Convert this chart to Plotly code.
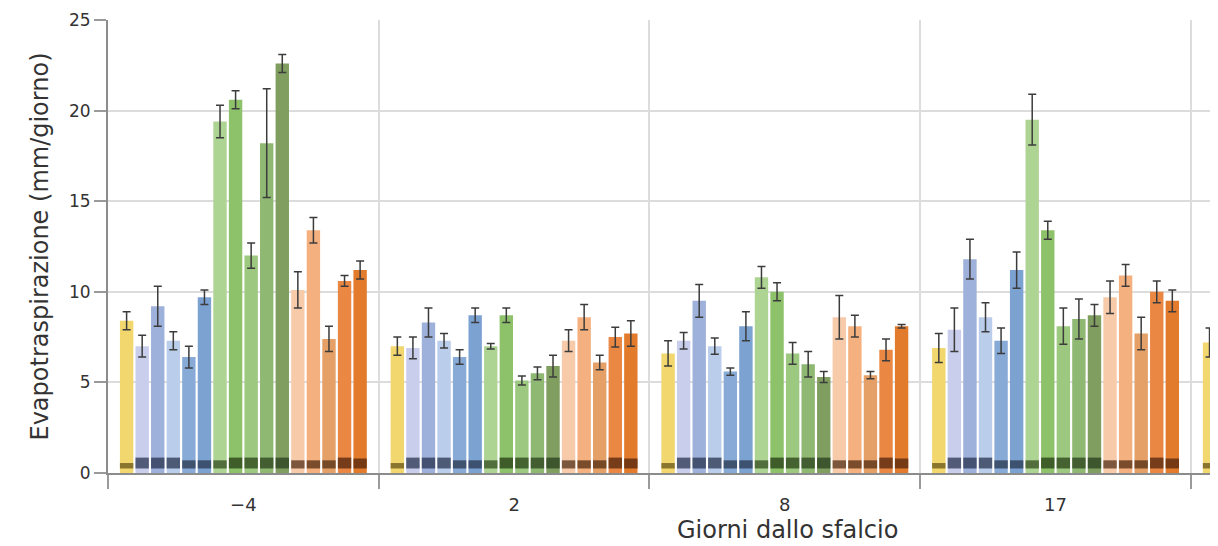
import plotly.graph_objects as go

days = ["−4", "2", "8", "17", "24"]

series_names = ["S1", "B1", "B2", "B3", "B4", "B5",
                "G1", "G2", "G3", "G4", "G5",
                "O1", "O2", "O3", "O4", "O5"]

values = [
    [8.4, 7.0, 6.6, 6.9, 7.2],
    [7.0, 6.9, 7.3, 7.9, None],
    [9.2, 8.3, 9.5, 11.8, None],
    [7.3, 7.3, 7.0, 8.6, None],
    [6.4, 6.4, 5.6, 7.3, None],
    [9.7, 8.7, 8.1, 11.2, None],
    [19.4, 7.0, 10.8, 19.5, None],
    [20.6, 8.7, 10.0, 13.4, None],
    [12.0, 5.1, 6.6, 8.1, None],
    [18.2, 5.5, 6.0, 8.5, None],
    [22.6, 5.9, 5.3, 8.7, None],
    [10.1, 7.3, 8.6, 9.7, None],
    [13.4, 8.6, 8.1, 10.9, None],
    [7.4, 6.1, 5.4, 7.7, None],
    [10.6, 7.5, 6.8, 10.0, None],
    [11.2, 7.7, 8.1, 9.5, None],
]

errors = [
    [0.5, 0.5, 0.7, 0.8, 0.8],
    [0.6, 0.6, 0.45, 1.2, None],
    [1.1, 0.8, 0.9, 1.1, None],
    [0.5, 0.4, 0.45, 0.8, None],
    [0.6, 0.4, 0.2, 0.7, None],
    [0.4, 0.4, 0.8, 1.0, None],
    [0.9, 0.15, 0.6, 1.4, None],
    [0.5, 0.4, 0.5, 0.5, None],
    [0.7, 0.25, 0.6, 1.0, None],
    [3.0, 0.35, 0.7, 1.1, None],
    [0.5, 0.6, 0.3, 0.6, None],
    [1.0, 0.6, 1.2, 0.9, None],
    [0.7, 0.7, 0.6, 0.6, None],
    [0.7, 0.4, 0.2, 0.9, None],
    [0.3, 0.55, 0.6, 0.6, None],
    [0.5, 0.7, 0.1, 0.6, None],
]

# small dark marks near the base of each bar
mark_base = 0.25
mark_heights = [0.3, 0.6, 0.6, 0.6, 0.45, 0.45,
                0.45, 0.6, 0.6, 0.6, 0.6,
                0.45, 0.45, 0.45, 0.6, 0.55]

colors = ["#F2D66E",
          "#C9CEEC", "#9EB1DA", "#BACDEB", "#87AAD6", "#7CA2D2",
          "#AED494", "#8DC26A", "#9CC87F", "#8FB873", "#7F9E60",
          "#F7CBAA", "#F4B07E", "#E4A066", "#E98743", "#E27B2C"]

mark_colors = ["#6E5C1E",
               "#343F5A", "#2E3A55", "#333F5A", "#2D3D55", "#2D3D58",
               "#3A5426", "#2A4418", "#2E4A1E", "#2F4820", "#2E4420",
               "#5E3A22", "#5C3318", "#5A3318", "#5A2A10", "#5A2A0E"]

fig = go.Figure()

for i, name in enumerate(series_names):
    fig.add_trace(go.Bar(
        x=days, y=values[i], name=name, offsetgroup=str(i),
        marker=dict(color=colors[i], line=dict(width=0)),
        error_y=dict(type="data", array=errors[i], visible=True,
                     color="#3C3C3C", thickness=1.5, width=4),
        showlegend=False,
    ))
    marks = [mark_heights[i] if v is not None else None for v in values[i]]
    fig.add_trace(go.Bar(
        x=days, y=marks, base=mark_base, name=name + " base",
        offsetgroup=str(i),
        marker=dict(color=mark_colors[i], line=dict(width=0)),
        opacity=0.8, showlegend=False, hoverinfo="skip",
    ))

font_family = "DejaVu Sans, Verdana, sans-serif"

# page body has an 8px default margin, so the figure is sized to fit the window
fig.update_layout(
    width=1210, height=538,
    margin=dict(l=100, r=0, t=12, b=73),
    paper_bgcolor="white", plot_bgcolor="white",
    barmode="group", bargap=0.08, bargroupgap=0.14,
    font=dict(family=font_family, color="#333333"),
    annotations=[dict(
        text="Giorni dallo sfalcio", xref="paper", yref="paper",
        x=0.6126, y=0, yshift=-73, xanchor="center", yanchor="bottom",
        showarrow=False, font=dict(size=24, color="#333333"),
    )],
)

fig.update_xaxes(
    type="category", range=[-0.5, 3.6], automargin=False,
    tickson="boundaries", ticks="outside", ticklen=14, tickcolor="#9A9A9A",
    tickwidth=2, showgrid=True, gridcolor="#DCDCDC", gridwidth=2,
    showline=True, linecolor="#8C8C8C", linewidth=2,
    ticklabelstandoff=14,
    tickfont=dict(size=18, color="#333333"),
)

fig.update_yaxes(
    range=[0, 25], dtick=5, ticks="outside", ticklen=12, tickcolor="#9A9A9A",
    tickwidth=2, showgrid=True, gridcolor="#DCDCDC", gridwidth=2,
    showline=True, linecolor="#8C8C8C", linewidth=2, zeroline=False,
    automargin=False,
    tickfont=dict(size=17, color="#333333"),
    title=dict(text="Evapotraspirazione (mm/giorno)", standoff=14,
               font=dict(size=24, color="#333333")),
)

fig.write_html("out.html")
